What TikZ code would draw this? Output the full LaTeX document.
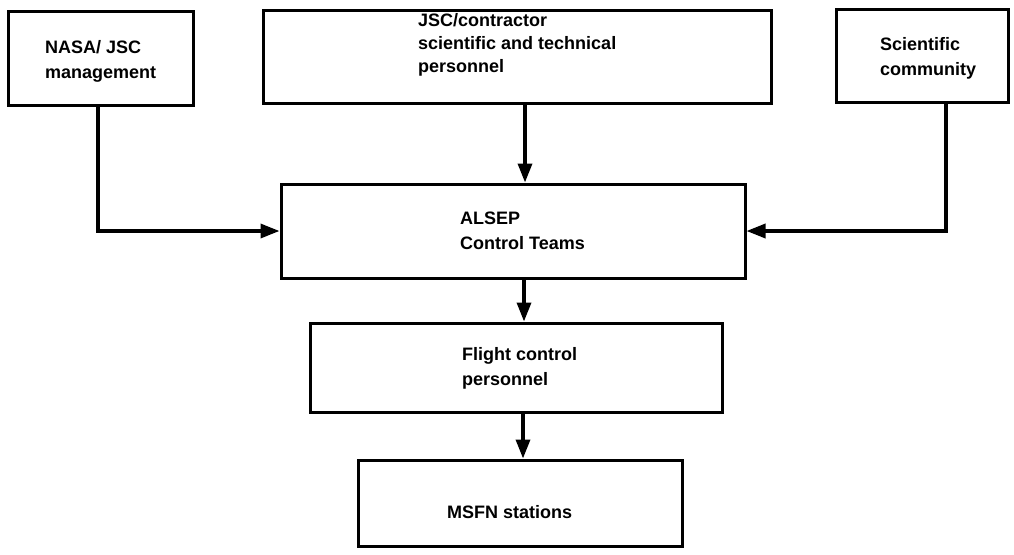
\documentclass[tikz,border=0pt]{standalone}
\usepackage{fontspec}
\setmainfont{Liberation Sans}
\usetikzlibrary{arrows.meta,calc}
\begin{document}
\begin{tikzpicture}[x=1pt,y=-1pt,
  box/.style={draw,line width=3pt,rectangle,inner sep=0pt},
  txt/.style={anchor=west,align=left,inner sep=0pt,font=\fontsize{18}{25}\selectfont\bfseries},
  arr/.style={line width=3.4pt,-{Triangle[length=19pt,width=14pt]}}]
\useasboundingbox (0,0) rectangle (1014,554);
% boxes
\node[box,minimum width=185pt,minimum height=94pt] (nasa) at (100.5,58) {};
\node[box,minimum width=508pt,minimum height=93pt] (jsc) at (517,56.5) {};
\node[box,minimum width=172pt,minimum height=93pt] (sci) at (922,55.5) {};
\node[box,minimum width=464pt,minimum height=94pt] (alsep) at (513,231) {};
\node[box,minimum width=412pt,minimum height=89pt] (flight) at (516,367.5) {};
\node[box,minimum width=324pt,minimum height=86pt] (msfn) at (520,503) {};
% texts
\node[txt] (nasaT) at (45,61.5) {NASA/ JSC\\management};
\node[txt,font=\fontsize{18}{23}\selectfont\bfseries] (jscT) at (418,45) {JSC/contractor\\scientific and technical\\personnel};
\node[txt] (sciT) at (880,58.5) {Scientific\\community};
\node[txt] (alsepT) at (460,231) {ALSEP\\Control Teams};
\node[txt] (flightT) at (462,368.5) {Flight control\\personnel};
\node[txt] (msfnT) at (447,512) {MSFN stations};
% connectors
\draw[arr] ([xshift=-2.5pt]nasa.south) |- (alsep.west);
\draw[arr] ([xshift=24pt]sci.south) |- (alsep.east);
\draw[arr] ([xshift=8pt]jsc.south) -- ([xshift=8pt]jsc.south |- alsep.north);
\draw[arr] ([xshift=11pt]alsep.south) -- ([xshift=11pt]alsep.south |- flight.north);
\draw[arr] ([xshift=7pt]flight.south) -- ([xshift=7pt]flight.south |- msfn.north);
\end{tikzpicture}
\end{document}
